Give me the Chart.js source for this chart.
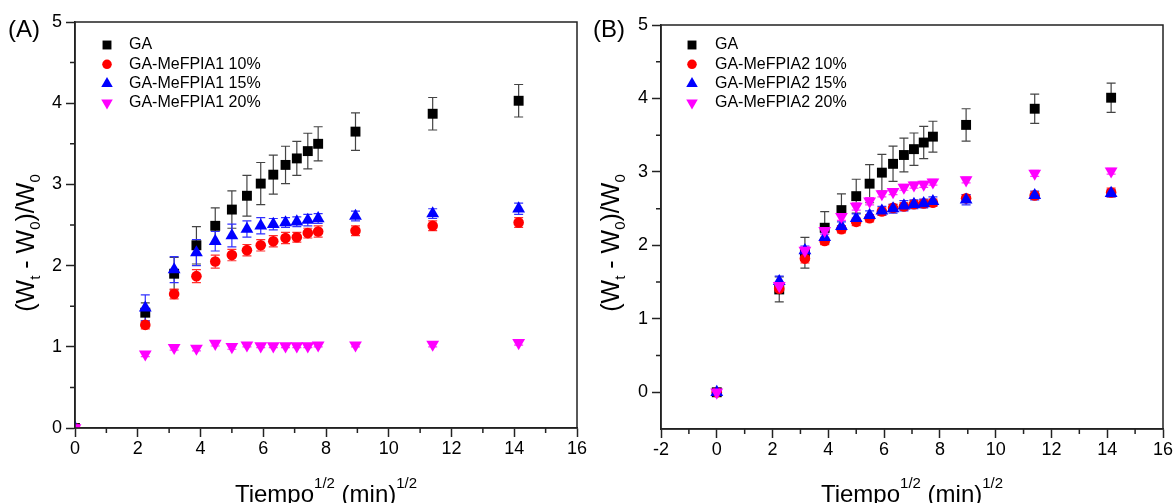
<!DOCTYPE html>
<html>
<head>
<meta charset="utf-8">
<script src="https://cdn.jsdelivr.net/npm/chart.js@4.4.1/dist/chart.umd.min.js"></script>
<style>
  html, body { margin: 0; padding: 0; background: #fff; overflow: hidden; }
  #wrap { position: relative; width: 1175px; height: 503px; overflow: hidden;
          font-family: "Liberation Sans", Arial, sans-serif; color: #000; }
  canvas { position: absolute; top: 0; }
  .lbl { position: absolute; font-size: 24px; line-height: 24px; white-space: nowrap; }
  .xt { position: absolute; width: 502px; text-align: center; font-size: 24px; line-height: 24px; white-space: nowrap; }
  .yt { position: absolute; width: 240px; height: 24px; text-align: center; font-size: 25px; line-height: 24px;
        white-space: nowrap; transform: rotate(-90deg); }
  .sup, .sub { font-size: 15px; position: relative; line-height: 0; }
  .sup { top: -14px; }
  .sub { top: 6px; }
</style>
</head>
<body>
<div id="wrap">
  <canvas id="chartA" width="590" height="503" style="left:0"></canvas>
  <canvas id="chartB" width="585" height="503" style="left:590px"></canvas>

  <div class="lbl" style="left:8px; top:17px">(A)</div>
  <div class="lbl" style="left:593px; top:17px">(B)</div>

  <div class="yt" style="left:-95px; top:231px">(W<span class="sub">t</span> - W<span class="sub">0</span>)/W<span class="sub">0</span></div>
  <div class="yt" style="left:490px; top:231px">(W<span class="sub">t</span> - W<span class="sub">0</span>)/W<span class="sub">0</span></div>

  <div class="xt" style="left:75px; top:482px">Tiempo<span class="sup">1/2</span> (min)<span class="sup">1/2</span></div>
  <div class="xt" style="left:661px; top:482px">Tiempo<span class="sup">1/2</span> (min)<span class="sup">1/2</span></div>
</div>

<script>
// sqrt of time (min^1/2), same for both panels
const times = [0, 2.24, 3.16, 3.87, 4.47, 5.00, 5.48, 5.92, 6.32, 6.71, 7.07, 7.42, 7.75, 8.94, 11.40, 14.14];

// panel A
const labelsA = ["GA", "GA-MeFPIA1 10%", "GA-MeFPIA1 15%", "GA-MeFPIA1 20%"];
const gaA     = [0, 1.42, 1.90, 2.25, 2.49, 2.69, 2.86, 3.01, 3.12, 3.24, 3.32, 3.41, 3.50, 3.65, 3.87, 4.03];
const gaAErr  = [0, 0.12, 0.20, 0.23, 0.22, 0.23, 0.25, 0.26, 0.24, 0.23, 0.21, 0.22, 0.21, 0.23, 0.20, 0.20];
const a10     = [0, 1.27, 1.65, 1.87, 2.05, 2.13, 2.19, 2.25, 2.30, 2.34, 2.35, 2.40, 2.42, 2.43, 2.49, 2.53];
const a10Err  = [0, 0.05, 0.06, 0.08, 0.08, 0.07, 0.07, 0.07, 0.07, 0.07, 0.06, 0.06, 0.07, 0.06, 0.06, 0.06];
const a15     = [0, 1.48, 1.95, 2.16, 2.30, 2.37, 2.45, 2.49, 2.51, 2.53, 2.54, 2.56, 2.58, 2.61, 2.64, 2.70];
const a15Err  = [0, 0.16, 0.16, 0.16, 0.12, 0.14, 0.10, 0.10, 0.07, 0.06, 0.06, 0.07, 0.06, 0.06, 0.06, 0.07];
const a20     = [0, 0.91, 0.99, 0.98, 1.04, 1.00, 1.02, 1.01, 1.01, 1.01, 1.01, 1.01, 1.02, 1.02, 1.03, 1.05];
const a20Err  = [0, 0.03, 0.03, 0.03, 0.03, 0.03, 0.02, 0.02, 0.02, 0.02, 0.02, 0.02, 0.02, 0.02, 0.03, 0.03];

// panel B
const labelsB = ["GA", "GA-MeFPIA2 10%", "GA-MeFPIA2 15%", "GA-MeFPIA2 20%"];
const gaB     = [0, 1.40, 1.90, 2.24, 2.48, 2.67, 2.84, 2.99, 3.11, 3.23, 3.31, 3.40, 3.48, 3.64, 3.86, 4.01];
const gaBErr  = [0, 0.17, 0.21, 0.22, 0.22, 0.23, 0.26, 0.25, 0.24, 0.23, 0.22, 0.22, 0.21, 0.22, 0.20, 0.20];
const b10     = [0, 1.41, 1.82, 2.06, 2.22, 2.32, 2.37, 2.46, 2.51, 2.53, 2.56, 2.57, 2.58, 2.64, 2.68, 2.72];
const b10Err  = [0, 0.05, 0.06, 0.05, 0.05, 0.05, 0.05, 0.05, 0.05, 0.05, 0.05, 0.05, 0.05, 0.05, 0.05, 0.06];
const b15     = [0, 1.51, 1.93, 2.11, 2.26, 2.37, 2.41, 2.47, 2.50, 2.54, 2.56, 2.57, 2.60, 2.62, 2.68, 2.71];
const b15Err  = [0, 0.07, 0.06, 0.06, 0.06, 0.06, 0.06, 0.06, 0.06, 0.07, 0.06, 0.06, 0.06, 0.07, 0.06, 0.05];
const b20     = [0, 1.45, 1.93, 2.20, 2.39, 2.53, 2.60, 2.70, 2.73, 2.79, 2.82, 2.83, 2.86, 2.89, 2.98, 3.01];
const b20Err  = [0, 0.05, 0.05, 0.05, 0.05, 0.05, 0.05, 0.04, 0.04, 0.04, 0.04, 0.04, 0.04, 0.04, 0.04, 0.04];

// ticks
const xTicksA = [0, 2, 4, 6, 8, 10, 12, 14, 16];
const xMinorA = [1, 3, 5, 7, 9, 11, 13, 15];
const xTicksB = [-2, 0, 2, 4, 6, 8, 10, 12, 14, 16];
const xMinorB = [-1, 1, 3, 5, 7, 9, 11, 13, 15];
const yTicks  = [0, 1, 2, 3, 4, 5];
const yMinor  = [0.5, 1.5, 2.5, 3.5, 4.5];

const markers = [
  { color: "#000000", err: "#444444", style: "rect", radius: 7, rotation: 0 },
  { color: "#ff0000", err: "#ff3030", style: "circle", radius: 5.3, rotation: 0 },
  { color: "#0000ff", err: "#3030ff", style: "triangle", radius: 7.4, rotation: 0 },
  { color: "#ff00ff", err: "#ff30ff", style: "triangle", radius: 7.4, rotation: 180 },
];

Chart.defaults.font.family = '"Liberation Sans", Arial, sans-serif';

function makeDatasets(labels, series, errors) {
  return series.map((ys, k) => ({
    label: labels[k],
    data: times.map((t, i) => ({ x: t, y: ys[i] })),
    errors: errors[k],
    errColor: markers[k].err,
    pointStyle: markers[k].style,
    pointRadius: markers[k].radius,
    pointRotation: markers[k].rotation,
    pointBackgroundColor: markers[k].color,
    pointBorderColor: markers[k].color,
    pointBorderWidth: 0,
    showLine: false,
    clip: 0,
    order: 4 - k,
  }));
}

// vertical error bars with caps
const errorBars = {
  id: "errorBars",
  beforeDatasetsDraw(chart) {
    const { ctx, scales: { y } } = chart;
    ctx.save();
    chart.data.datasets.forEach((ds, i) => {
      const meta = chart.getDatasetMeta(i);
      ctx.strokeStyle = ds.errColor;
      ctx.lineWidth = 1.2;
      meta.data.forEach((pt, j) => {
        const e = ds.errors[j];
        if (!e) return;
        const v = ds.data[j].y;
        const top = y.getPixelForValue(v + e);
        const bot = y.getPixelForValue(v - e);
        ctx.beginPath();
        ctx.moveTo(pt.x, top); ctx.lineTo(pt.x, bot);
        ctx.moveTo(pt.x - 4.5, top); ctx.lineTo(pt.x + 4.5, top);
        ctx.moveTo(pt.x - 4.5, bot); ctx.lineTo(pt.x + 4.5, bot);
        ctx.stroke();
      });
    });
    ctx.restore();
  }
};

// box frame + minor ticks
const frame = {
  id: "frame",
  afterDraw(chart, args, opts) {
    const { ctx, chartArea: a, scales: { x, y } } = chart;
    ctx.save();
    ctx.strokeStyle = "#222";
    ctx.lineWidth = 1.5;
    ctx.strokeRect(a.left, a.top, a.right - a.left, a.bottom - a.top);
    ctx.beginPath();
    opts.minorX.forEach(v => {
      const px = x.getPixelForValue(v);
      ctx.moveTo(px, a.bottom); ctx.lineTo(px, a.bottom + 5);
    });
    opts.minorY.forEach(v => {
      const py = y.getPixelForValue(v);
      ctx.moveTo(a.left, py); ctx.lineTo(a.left - 5, py);
    });
    ctx.stroke();
    ctx.restore();
  }
};

// legend drawn inside the plot area
const insideLegend = {
  id: "insideLegend",
  afterDraw(chart, args, opts) {
    const ctx = chart.ctx;
    ctx.save();
    ctx.font = '16px "Liberation Sans", Arial, sans-serif';
    ctx.textBaseline = "middle";
    chart.data.datasets.forEach((ds, i) => {
      const yy = opts.top + i * opts.gap;
      ctx.fillStyle = ds.pointBackgroundColor;
      Chart.helpers.drawPoint(ctx, {
        pointStyle: ds.pointStyle, radius: ds.pointRadius * 0.9,
        rotation: ds.pointRotation, borderWidth: 0
      }, opts.markerX, yy);
      ctx.fillStyle = "#000";
      ctx.fillText(ds.label, opts.textX, yy);
    });
    ctx.restore();
  }
};

function makeScales(xMin, xMax, xTicks, yMin, yMax, yWidth, xHeight) {
  const grid = { drawOnChartArea: false, tickLength: 9, tickColor: "#222", tickWidth: 1.5 };
  const border = { color: "#222", width: 1.5 };
  return {
    x: {
      type: "linear", min: xMin, max: xMax, grid, border,
      ticks: { color: "#000", font: { size: 18 }, padding: 1, maxRotation: 0 },
      afterBuildTicks: s => { s.ticks = xTicks.map(v => ({ value: v })); },
      afterFit: s => { s.height = xHeight; }
    },
    y: {
      type: "linear", min: yMin, max: yMax, grid, border,
      ticks: { color: "#000", font: { size: 18 }, padding: 4 },
      afterBuildTicks: s => { s.ticks = yTicks.map(v => ({ value: v })); },
      afterFit: s => { s.width = yWidth; }
    }
  };
}

const configA = {
  type: "scatter",
  data: { datasets: makeDatasets(labelsA, [gaA, a10, a15, a20], [gaAErr, a10Err, a15Err, a20Err]) },
  options: {
    responsive: false,
    animation: false,
    events: [],
    layout: { padding: { left: 0, top: 22, right: 13, bottom: 0 } },
    scales: makeScales(0, 16, xTicksA, 0, 5, 75, 75),
    plugins: {
      legend: { display: false },
      tooltip: { enabled: false },
      frame: { minorX: xMinorA, minorY: yMinor },
      insideLegend: { markerX: 107, textX: 129, top: 45, gap: 19.3 }
    }
  },
  plugins: [errorBars, frame, insideLegend]
};

const configB = {
  type: "scatter",
  data: { datasets: makeDatasets(labelsB, [gaB, b10, b15, b20], [gaBErr, b10Err, b15Err, b20Err]) },
  options: {
    responsive: false,
    animation: false,
    events: [],
    layout: { padding: { left: 0, top: 25, right: 12, bottom: 0 } },
    scales: makeScales(-2, 16, xTicksB, -0.5, 5, 71, 74),
    plugins: {
      legend: { display: false },
      tooltip: { enabled: false },
      frame: { minorX: xMinorB, minorY: yMinor },
      insideLegend: { markerX: 102, textX: 125, top: 45, gap: 19.3 }
    }
  },
  plugins: [errorBars, frame, insideLegend]
};

new Chart(document.getElementById("chartA").getContext("2d"), configA);
new Chart(document.getElementById("chartB").getContext("2d"), configB);
</script>
</body>
</html>
